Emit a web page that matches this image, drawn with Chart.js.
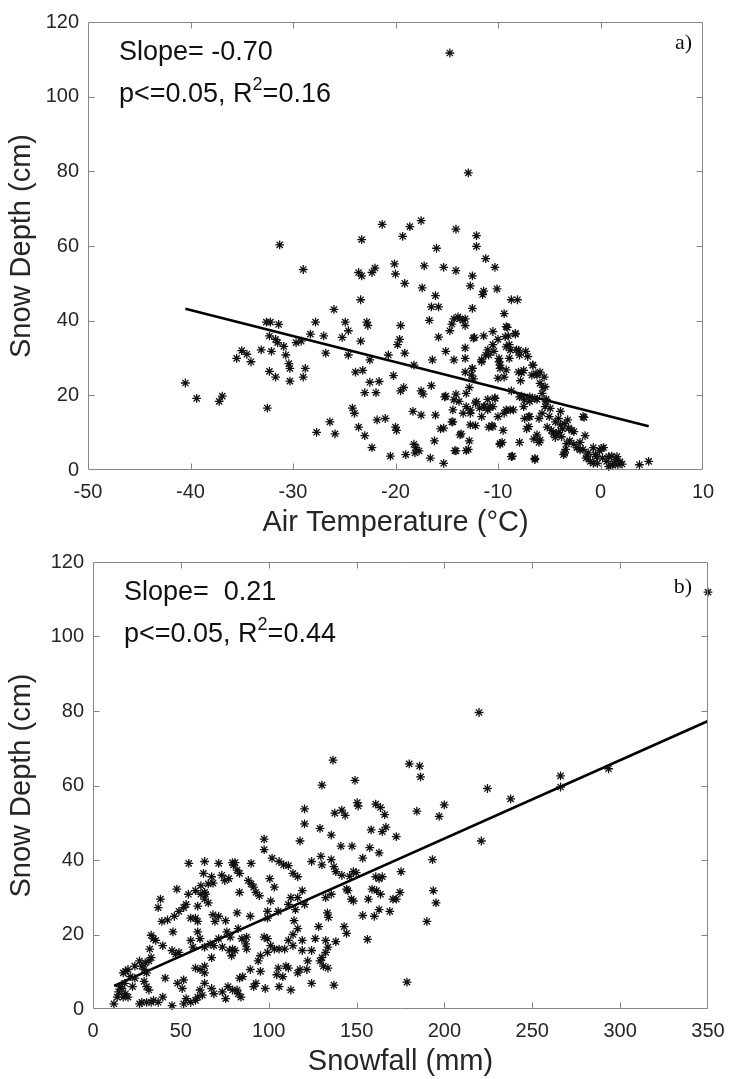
<!DOCTYPE html>
<html>
<head>
<meta charset="utf-8">
<script src="https://cdn.jsdelivr.net/npm/chart.js@4/dist/chart.umd.min.js"></script>
<style>
  html,body{margin:0;padding:0;background:#fff;}
  .wrap{position:relative;width:729px;}
  canvas{display:block;}
</style>
</head>
<body>
<div class="wrap"><canvas id="c1" width="729" height="540"></canvas></div>
<div class="wrap"><canvas id="c2" width="729" height="539"></canvas></div>
<script>
// ---------- tick labels ----------
const depthTicks = [0, 20, 40, 60, 80, 100, 120];
const tempTicks = [-50, -40, -30, -20, -10, 0, 10];
const snowTicks = [0, 50, 100, 150, 200, 250, 300, 350];

// ---------- panel a: air temperature vs snow depth ----------
const tempX = [
 -14.7,-12.9,-40.5,-39.4,-37.2,-36.9,-32.5,-31.3,-29.0,
 -35.5,-35.0,-34.5,-34.1,-33.1,
 -32.6,-32.2,-31.4,-32.3,-31.7,-31.5,-32.1,-32.3,-31.7,-30.9,-30.7,-30.4,-30.3,-30.3,-29.7,-29.2,-29.0,-28.8,
 -28.3,-27.8,-27.7,-27.0,-26.8,-26.4,-26.0,-25.9,
 -25.2,-24.9,-24.6,-24.6,-23.9,-24.2,-24.0,-23.6,
 -23.3,-23.6,-23.3,-23.4,-23.4,-23.2,-23.0,-23.0,
 -22.8,-22.7,-22.5,-22.5,-22.3,-22.3,-22.0,-21.9,-21.8,-21.6,
 -21.3,-20.7,-21.0,-20.5,-20.2,-20.1,-20.0,-20.0,-19.9,-19.8,-19.6,-19.5,-19.5,-19.3,-19.1,-19.1,-19.2,-19.0,
 -18.6,-18.2,-18.3,-18.2,-18.0,-18.1,-17.7,
 -17.5,-17.4,-17.2,-17.5,-17.3,-17.5,
 -16.7,-16.5,-16.6,-16.4,-16.2,-16.1,
 -16.0,-16.1,-15.8,-16.5,-15.8,-15.6,
 -15.3,-15.1,-15.3,-15.1,
 -14.7,-14.5,-14.3,-14.3,-14.5,-14.1,-14.1,-14.1,-14.1,
 -13.9,-13.7,-13.4,-13.2,-13.2,-13.8,-13.6,-13.4,-13.2,-13.2,-13.2,-12.9,-12.8,
 -12.8,-12.7,-12.7,-12.5,-12.5,-12.5,-12.4,-12.3,-12.2,-12.2,-12.1,-12.1,
 -11.8,-11.6,-11.6,-11.5,-11.4,-11.4,-11.2,-11.0,-11.2,-11.0,-11.0,-10.9,-10.8,-10.6,
 -10.5,-10.4,-10.3,-10.3,-10.1,-10.0,-9.9,-9.8,-9.8,-9.6,-9.5,-9.4,-9.4,-9.2,
 -9.4,-9.1,-9.0,-8.9,-8.9,-8.7,-8.6,-8.7,-8.5,-8.3,-8.2,-8.1,-8.0,-7.9,-7.8,-7.7,-7.5,-7.5,-7.4,-7.3,-7.2,-7.1,-7.0,-6.9,
 -6.6,-6.5,-6.4,-6.3,-6.2,-6.0,-6.0,-5.9,-5.7,-5.6,-5.5,-5.4,-5.3,-5.2,-5.0,
 -4.8,-4.6,-4.4,-4.1,-4.1,-3.9,-3.7,-3.6,-3.5,-3.2,-3.4,-3.0,-2.8,-2.6,-2.3,-2.0,-1.7,-1.7,-1.5,-1.4,-1.2,-1.0,
 -0.7,-0.5,-0.3,-0.1,0.2,0.3,0.6,0.8,1.1,1.3,1.5,1.7,2.1,3.8,4.7,
 -12.4,-11.4,-10.5,-9.2,-8.3,-9.3,
 -12.5,-12.6,-11.6,-10.9,-9.9,-10.0,-9.8,-9.2,-9.2,-8.8,-8.0,-7.9,-7.7,-6.6,-6.7,-6.2,-5.9,-5.4,-5.7,-5.3,-4.9,
 -15.2,-14.3,-14.4,-13.1,-13.1,-12.7,-12.7,-12.1,-11.3,-10.5,-10.3,-10.5,-10.0,-8.8,-7.9,-7.4,-6.9,-6.4,-6.9,-7.0,-6.2,-5.9,-8.7,-6.4,-9.8,
 -14.2,-13.1,-13.7,-14.4,-15.3,
 -4.4,-3.9,-3.1,-4.3,-3.8,-3.3,-2.6,-3.5,-2.0,-1.6,-1.3,-0.4,-0.7,0.1,0.8,1.6,1.2,1.9
];
const tempDepth = [
 111.7,79.6,23.3,19.2,18.4,19.8,16.6,60.3,53.7,
 29.9,32.0,31.0,29.0,32.2,
 39.6,39.6,39.0,35.9,35.0,34.1,31.8,26.4,24.9,33.1,30.8,28.5,27.2,23.8,34.1,34.5,24.9,27.2,
 36.4,39.6,10.1,35.9,31.3,12.9,43.0,9.7,
 35.5,39.6,37.3,30.8,26.2,16.6,15.2,11.5,
 61.7,52.9,52.0,45.6,34.5,26.7,20.7,9.2,
 39.6,38.7,29.5,23.5,6.0,52.9,54.1,20.7,13.4,23.7,
 65.8,30.8,13.8,3.7,25.3,55.2,52.5,11.5,10.6,33.6,35.0,38.7,21.2,62.6,50.0,31.3,22.1,4.1,
 65.2,28.1,15.7,6.9,6.0,4.6,5.1,
 66.8,48.8,54.7,21.2,20.3,14.7,
 40.1,22.6,3.2,29.5,7.8,14.7,
 59.4,46.7,43.7,43.7,35.6,11.0,
 54.3,31.8,1.8,19.8,
 37.3,39.1,40.5,29.5,12.9,20.3,5.1,64.5,53.4,
 41.0,40.5,40.1,40.5,38.7,18.4,9.7,15.2,32.7,29.9,26.2,5.5,7.8,
 22.1,16.1,49.3,52.0,43.3,27.2,24.4,35.5,17.9,11.9,62.8,59.9,
 16.6,14.3,29.0,47.0,47.9,17.0,56.6,32.2,30.8,18.9,16.1,11.5,17.0,11.9,
 33.6,31.8,19.3,54.3,48.5,35.0,29.9,28.1,6.9,7.4,10.6,15.2,24.9,16.1,
 41.9,38.2,35.9,33.6,29.9,45.6,3.7,21.2,16.1,36.4,32.2,45.6,26.2,7.4,23.9,19.8,17.0,26.7,13.8,31.8,11.0,30.4,14.3,18.4,
 28.1,8.3,2.8,25.8,18.9,7.4,13.8,26.2,15.2,22.1,24.9,17.0,18.9,11.5,14.3,
 10.6,9.7,8.7,10.1,13.8,15.7,11.0,4.1,12.4,13.4,5.5,7.8,10.6,6.9,6.0,7.4,14.3,5.5,9.2,3.2,4.6,2.3,
 6.0,4.1,1.8,5.1,3.2,6.0,2.3,0.9,3.7,1.8,2.8,1.4,1.6,1.4,2.3,
 35.3,35.9,37.1,38.4,36.6,35.7,
 27.2,25.4,29.5,30.8,29.0,24.6,27.2,26.8,33.0,32.1,32.1,30.8,26.1,28.1,25.4,25.4,23.2,22.3,20.5,18.3,16.5,
 19.6,18.8,16.1,20.5,17.0,15.2,12.1,18.3,17.0,17.0,19.2,11.6,14.3,16.1,19.6,18.8,19.6,19.2,14.3,11.6,9.4,8.0,3.6,3.1,7.1,
 5.2,5.2,9.4,12.9,11.2,
 12.9,12.1,11.2,9.8,8.9,7.1,10.3,4.5,5.4,14.1,3.6,3.6,1.8,5.8,3.6,3.6,1.3,2.2
];
const tempFitX = [-40.5, 4.7];
const tempFitY = [43.2, 11.7];

// ---------- panel b: snowfall vs snow depth ----------
const snowX = [
 350.0,219.7,180.0,185.9,186.4,136.6,130.3,149.1,150.4,150.9,160.9,163.6,166.0,164.6,166.7,158.3,120.4,120.4,
 137.6,141.6,143.5,184.3,199.9,197.0,224.5,237.7,266.1,266.1,293.4,221.0,172.6,
 193.2,193.7,195.2,190.0,175.3,174.7,170.7,172.6,168.9,156.2,178.7,117.8,97.4,97.4,
 129.2,135.6,141.1,147.4,157.5,
 148.2,149.8,146.1,145.1,147.0,148.2,153.5,153.5,156.7,158.8,160.9,162.8,164.6,162.8,161.4,163.6,160.1,162.8,
 141.6,144.3,142.9,144.3,138.2,137.1,135.6,129.7,130.3,124.4,132.4,133.4,134.0,135.6,138.2,137.1,132.4,133.7,132.4,130.3,129.2,131.1,133.7,128.4,126.5,124.4,
 119.1,120.4,116.5,115.2,112.6,111.2,116.5,113.8,108.5,111.2,105.9,101.9,100.6,103.2,101.1,99.3,99.3,105.4,
 114.4,113.8,116.5,119.1,113.8,111.2,109.1,105.9,103.2,101.1,99.3,97.4,99.3,95.3,94.0,95.3,98.0,92.7,91.4,105.4,104.6,105.9,108.0,109.8,111.2,112.6,116.5,117.8,121.7,124.4,122.2,119.1,
 87.4,86.9,87.4,84.7,82.6,82.0,83.4,82.0,83.4,88.4,90.0,92.7,91.4,94.7,90.0,89.5,85.2,83.4,84.2,82.0,89.5,79.4,78.1,76.2,75.5,77.6,78.9,80.8,
 71.5,79.4,79.9,80.8,77.3,75.0,73.3,68.3,67.5,65.6,63.5,63.5,65.6,68.3,69.4,71.5,
 63.5,54.5,62.9,61.4,64.0,61.4,58.3,59.6,58.3,59.6,55.6,54.3,53.0,51.6,48.9,47.7,46.3,45.5,42.4,39.2,38.4,37.1,
 55.6,56.9,59.6,60.9,63.5,66.7,68.8,71.5,73.6,67.5,63.5,63.5,60.9,58.3,63.5,60.9,59.6,62.2,58.3,55.6,53.0,51.6,45.0,50.8,51.6,48.1,47.0,45.0,48.9,
 67.5,68.8,73.6,75.5,76.8,79.4,82.6,
 39.7,41.1,39.7,37.1,34.4,33.1,34.4,35.7,32.3,33.1,31.8,29.7,27.8,29.1,30.5,26.5,23.8,30.5,29.1,31.8,27.8,30.5,33.1,26.5,23.8,
 18.5,17.2,19.9,21.2,18.0,16.4,15.4,14.6,18.5,19.9,17.2,22.5,11.9,13.8
];
const snowDepth = [
 111.9,79.6,65.8,65.2,62.3,66.8,60.1,61.4,55.4,54.5,55.0,54.1,52.2,47.6,48.8,48.1,53.7,49.7,
 52.6,53.4,52.0,53.1,54.8,51.7,59.2,56.4,62.6,59.6,64.5,45.1,46.3,
 40.1,31.8,28.5,23.5,36.9,31.3,29.5,29.5,26.2,18.7,7.2,45.1,45.6,42.8,
 48.5,46.7,43.7,43.7,43.3,
 36.9,36.6,35.6,31.8,29.5,29.0,40.5,25.1,29.5,32.2,35.5,35.0,35.5,26.7,31.8,30.8,24.9,41.9,
 35.9,32.2,22.1,20.3,36.9,38.2,40.1,41.0,38.7,39.6,29.9,25.8,24.6,30.8,18.1,6.4,18.4,16.6,15.2,13.8,12.9,11.5,11.0,22.1,18.9,15.7,
 31.8,28.1,29.9,26.7,29.9,28.1,35.5,36.4,38.7,38.5,39.6,40.5,35.0,32.7,29.0,26.2,24.4,26.2,
 23.7,20.0,21.6,18.4,17.0,18.4,16.1,16.1,16.1,17.0,18.9,19.3,15.2,14.3,12.9,10.1,5.5,6.9,6.0,11.0,9.2,6.0,8.7,11.5,11.0,5.1,9.7,10.6,10.6,6.9,12.9,15.7,
 19.3,17.5,16.1,18.9,21.6,25.8,31.3,37.3,36.4,34.5,33.6,31.3,32.7,30.4,39.1,24.9,8.7,8.3,3.2,5.1,10.6,16.1,19.3,20.7,23.7,15.7,14.3,15.7,
 39.1,39.3,38.7,39.3,35.0,34.5,35.9,33.8,35.5,33.6,31.3,29.5,28.5,25.3,23.5,24.9,
 39.6,39.1,36.4,33.1,30.8,30.8,31.8,27.6,24.4,23.5,24.4,30.8,28.1,27.2,26.2,32.2,24.9,20.7,23.9,23.5,29.5,27.2,
 18.4,16.6,20.7,18.9,16.6,17.5,17.0,18.9,16.6,13.8,11.5,9.7,10.6,11.0,6.9,5.1,3.2,3.7,2.3,1.8,2.8,1.4,0.9,5.5,7.8,6.9,14.7,15.7,15.2,
 5.5,4.1,4.6,2.8,6.0,5.1,4.1,
 17.0,8.3,3.2,1.8,2.3,19.8,18.9,18.4,16.1,13.8,12.9,12.4,11.5,10.6,9.7,12.9,8.3,6.0,7.4,5.1,1.8,1.8,1.8,1.4,11.5,
 10.1,9.7,10.6,8.7,6.9,5.5,6.0,4.6,4.1,3.2,3.2,6.0,1.4,3.2
];
const snowFitX = [12, 350];
const snowFitY = [6.2, 77.3];

// ---------- helpers ----------
const FONT = "'Liberation Sans', Arial, Helvetica, sans-serif";
const AXIS_GREY = '#858585';
const TEXT_DARK = '#262626';

const matlabBox = {
  id: 'matlabBox',
  afterDraw(chart, args, opts) {
    const {ctx, chartArea: ca, scales} = chart;
    const sx = scales.x, sy = scales.y;
    ctx.save();
    ctx.strokeStyle = AXIS_GREY;
    ctx.lineWidth = 1;
    const L = Math.round(ca.left) + 0.5, R = Math.round(ca.right) - 0.5;
    const T = Math.round(ca.top) + 0.5, B = Math.round(ca.bottom) - 0.5;
    ctx.beginPath();
    ctx.rect(L, T, R - L, B - T);
    const tl = 6;
    sx.ticks.forEach(t => {
      const p = Math.round(sx.getPixelForValue(t.value)) + 0.5;
      if (p <= L + 1 || p >= R - 1) return;
      ctx.moveTo(p, B); ctx.lineTo(p, B - tl);
      ctx.moveTo(p, T); ctx.lineTo(p, T + tl);
    });
    sy.ticks.forEach(t => {
      const p = Math.round(sy.getPixelForValue(t.value)) + 0.5;
      if (p <= T + 1 || p >= B - 1) return;
      ctx.moveTo(L, p); ctx.lineTo(L + tl, p);
      ctx.moveTo(R, p); ctx.lineTo(R - tl, p);
    });
    ctx.stroke();

    // annotation text
    ctx.fillStyle = '#111';
    ctx.textBaseline = 'middle';
    ctx.textAlign = 'left';
    const fs = 27;
    ctx.font = fs + 'px ' + FONT;
    const x0 = ca.left + 31;
    ctx.fillText(opts.line1, x0, ca.top + 31);
    let x = x0;
    const y2 = ca.top + 73;
    ctx.fillText(opts.line2a, x, y2);
    x += ctx.measureText(opts.line2a).width;
    ctx.font = '18px ' + FONT;
    ctx.fillText('2', x, y2 - 10);
    x += ctx.measureText('2').width;
    ctx.font = fs + 'px ' + FONT;
    ctx.fillText(opts.line2b, x, y2);

    ctx.font = "22px 'Liberation Serif', 'Times New Roman', serif";
    ctx.textAlign = 'right';
    ctx.fillText(opts.tag, ca.right + opts.tagDx, ca.top + opts.tagDy);
    ctx.restore();
  }
};

function makeChart(id, xs, ys, fitX, fitY, xTicks, xTitle, xMin, xMax, ann) {
  const pts = xs.map((v, i) => ({x: v, y: ys[i]}));
  const fit = fitX.map((v, i) => ({x: v, y: fitY[i]}));
  return new Chart(document.getElementById(id), {
    type: 'scatter',
    data: {
      datasets: [
        {
          data: pts,
          pointStyle: 'star',
          pointRadius: 4.4,
          pointBorderColor: '#111',
          pointBackgroundColor: '#111',
          pointBorderWidth: 1.3,
          pointHoverRadius: 4.4,
          showLine: false,
          clip: false
        },
        {
          type: 'line',
          data: fit,
          borderColor: '#000',
          borderWidth: 2.6,
          pointRadius: 0,
          fill: false,
          tension: 0
        }
      ]
    },
    options: {
      responsive: false,
      animation: false,
      devicePixelRatio: 1,
      events: [],
      layout: {padding: {top: 22, right: ann.padRight, left: 0, bottom: 0}},
      plugins: {
        legend: {display: false},
        tooltip: {enabled: false},
        matlabBox: ann
      },
      scales: {
        x: {
          type: 'linear',
          min: xMin, max: xMax,
          afterBuildTicks: s => { s.ticks = xTicks.map(v => ({value: v})); },
          afterFit: s => { s.height = 70; },
          grid: {display: false, drawTicks: true, tickLength: 10},
          border: {display: false},
          ticks: {
            font: {family: FONT, size: 20},
            color: TEXT_DARK,
            padding: 0,
            maxRotation: 0,
            autoSkip: false
          },
          title: {
            display: true,
            text: xTitle,
            font: {family: FONT, size: 29},
            color: TEXT_DARK,
            padding: {top: 0, bottom: 0}
          }
        },
        y: {
          type: 'linear',
          min: 0, max: 120,
          afterBuildTicks: s => { s.ticks = depthTicks.map(v => ({value: v})); },
          afterFit: s => { s.width = ann.yWidth; },
          grid: {display: false, drawTicks: true, tickLength: 9},
          border: {display: false},
          ticks: {
            font: {family: FONT, size: 20},
            color: TEXT_DARK,
            padding: 0,
            autoSkip: false
          },
          title: {
            display: true,
            text: 'Snow Depth (cm)',
            font: {family: FONT, size: 29},
            color: TEXT_DARK,
            padding: {top: 5, bottom: 0}
          }
        }
      }
    },
    plugins: [matlabBox]
  });
}

makeChart('c1', tempX, tempDepth, tempFitX, tempFitY, tempTicks, 'Air Temperature (\u00B0C)', -50, 10,
  {line1: 'Slope= -0.70', line2a: 'p<=0.05, R', line2b: '=0.16', tag: 'a)', tagDx: -11, tagDy: 21, padRight: 26, yWidth: 88});
makeChart('c2', snowX, snowDepth, snowFitX, snowFitY, snowTicks, 'Snowfall (mm)', 0, 350,
  {line1: 'Slope=  0.21', line2a: 'p<=0.05, R', line2b: '=0.44', tag: 'b)', tagDx: -16, tagDy: 25, padRight: 21, yWidth: 93});
</script>
</body>
</html>
